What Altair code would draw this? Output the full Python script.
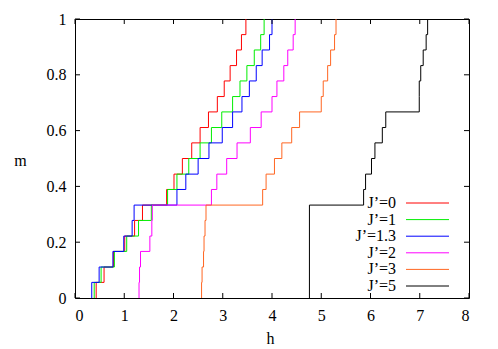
import altair as alt
import pandas as pd

series = ["J’=0", "J’=1", "J’=1.3", "J’=2", "J’=3", "J’=5"]
colors = ["#ff0000", "#00ee00", "#0000ff", "#ff00ff", "#ff6622", "#000000"]
widths = [1, 1, 1, 1, 1, 2]

# magnetisation levels (steps of 1/18)
m_levels = [0.0, 0.056, 0.111, 0.167, 0.222, 0.278, 0.333, 0.389, 0.444, 0.5,
            0.556, 0.611, 0.667, 0.722, 0.778, 0.833, 0.889, 0.944, 1.0]

# field values at which each step occurs (first value repeated for the start at m=0)
h_J0 = [0.43, 0.43, 0.59, 0.78, 1.01, 1.21, 1.37, 1.86, 2.01, 2.18, 2.37, 2.54,
        2.71, 2.89, 3.03, 3.15, 3.28, 3.38, 3.47]
h_J1 = [0.39, 0.39, 0.53, 0.80, 1.05, 1.29, 1.55, 1.88, 2.07, 2.31, 2.54, 2.77,
        2.98, 3.20, 3.35, 3.49, 3.64, 3.77, 3.84]
h_J13 = [0.34, 0.34, 0.49, 0.77, 0.99, 1.16, 1.20, 2.07, 2.25, 2.50, 2.72, 2.99,
         3.20, 3.39, 3.54, 3.68, 3.80, 3.95, 4.00]
h_J2 = [1.30, 1.30, 1.31, 1.33, 1.52, 1.56, 1.57, 2.77, 2.88, 3.08, 3.29, 3.56,
        3.78, 4.00, 4.10, 4.24, 4.32, 4.43, 4.47]
h_J3 = [2.57, 2.57, 2.58, 2.61, 2.62, 2.64, 2.66, 3.81, 3.88, 4.05, 4.20, 4.40,
        4.56, 5.00, 5.04, 5.13, 5.19, 5.27, 5.30]
h_J5 = [4.76, 4.76, 5.86, 5.90, 6.02, 6.09, 6.24, 6.31, 6.99, 6.99, 7.02, 7.07, 7.13, 7.16]
m_J5 = [0.0, 0.333, 0.389, 0.444, 0.5, 0.556, 0.611, 0.667, 0.722, 0.778,
        0.833, 0.889, 0.944, 1.0]

x_ticks = [0, 1, 2, 3, 4, 5, 6, 7, 8]
y_ticks = [0, 0.2, 0.4, 0.6, 0.8, 1]

rows = []
for name, hs, ms in [(series[0], h_J0, m_levels), (series[1], h_J1, m_levels),
                     (series[2], h_J13, m_levels), (series[3], h_J2, m_levels),
                     (series[4], h_J3, m_levels), (series[5], h_J5, m_J5)]:
    for i, (h, m) in enumerate(zip(hs, ms)):
        rows.append({"series": name, "h": h, "m": m, "idx": i})
df = pd.DataFrame(rows)

W, H = 394, 279
FONT = "Liberation Serif"
FS = 16

xs = alt.Scale(domain=[0, 8], nice=False, zero=False)
ys = alt.Scale(domain=[0, 1], nice=False, zero=False)
cs = alt.Scale(domain=series, range=colors)
ws = alt.Scale(domain=series, range=widths)

x_axis = alt.Axis(
    values=x_ticks, ticks=False, tickSize=0, domain=False, grid=False,
    labelFont=FONT, labelFontSize=FS, labelColor="black", labelPadding=9,
    format="d", title="h", titleFont=FONT, titleFontSize=FS,
    titleFontWeight="normal", titleColor="black", titleX=195, titleY=40,
    titleBaseline="middle", titleAlign="center")
y_axis = alt.Axis(
    values=y_ticks, ticks=False, tickSize=0, domain=False, grid=False,
    labelFont=FONT, labelFontSize=FS, labelColor="black", labelPadding=9,
    format="~g",
    title="m", titleFont=FONT, titleFontSize=FS, titleFontWeight="normal",
    titleColor="black", titleAngle=0, titleX=-55, titleY=141,
    titleBaseline="middle", titleAlign="center")

lines = alt.Chart(df).mark_line(interpolate="step-after").encode(
    x=alt.X("h:Q", scale=xs, axis=x_axis),
    y=alt.Y("m:Q", scale=ys, axis=y_axis),
    color=alt.Color("series:N", scale=cs, legend=None),
    strokeWidth=alt.StrokeWidth("series:N", scale=ws, legend=None),
    order="idx:Q",
)

xt = pd.DataFrame({"h": x_ticks})
yt = pd.DataFrame({"m": y_ticks})

bottom_ticks = alt.Chart(xt).mark_rule(color="black", strokeWidth=1).encode(
    x=alt.X("h:Q", scale=xs, axis=x_axis), y=alt.value(H), y2=alt.value(H - 5))
top_ticks = alt.Chart(xt).mark_rule(color="black", strokeWidth=1).encode(
    x=alt.X("h:Q", scale=xs, axis=x_axis), y=alt.value(0), y2=alt.value(5))
left_ticks = alt.Chart(yt).mark_rule(color="black", strokeWidth=1).encode(
    y=alt.Y("m:Q", scale=ys, axis=None), x=alt.value(0), x2=alt.value(5))
right_ticks = alt.Chart(yt).mark_rule(color="black", strokeWidth=1).encode(
    y=alt.Y("m:Q", scale=ys, axis=None), x=alt.value(W - 5), x2=alt.value(W))

leg = pd.DataFrame({"series": series, "row": list(range(len(series)))})
ls = alt.Scale(type="point", domain=list(range(len(series))), range=[184, 267], padding=0)

leg_lines = alt.Chart(leg).mark_rule().encode(
    x=alt.value(331), x2=alt.value(374),
    y=alt.Y("row:O", scale=ls, axis=None),
    color=alt.Color("series:N", scale=cs, legend=None),
    strokeWidth=alt.StrokeWidth("series:N", scale=ws, legend=None),
)
leg_text = alt.Chart(leg).mark_text(align="right", baseline="middle", font=FONT,
                                    fontSize=FS, color="black").encode(
    x=alt.value(321),
    y=alt.Y("row:O", scale=ls, axis=None),
    text="series:N",
)

chart = alt.layer(lines, bottom_ticks, top_ticks, left_ticks, right_ticks,
                  leg_lines, leg_text).resolve_scale(y="independent").properties(
    width=W, height=H,
    padding={"left": 67, "top": 11, "right": 21, "bottom": 50},
    autosize=alt.AutoSizeParams(type="none"),
    background="white",
).configure_view(stroke="black", strokeWidth=1).configure_axis(
    labelFont=FONT, titleFont=FONT
).configure_text(font=FONT)

chart.save("out.html", embed_options={"renderer": "svg", "actions": False})
